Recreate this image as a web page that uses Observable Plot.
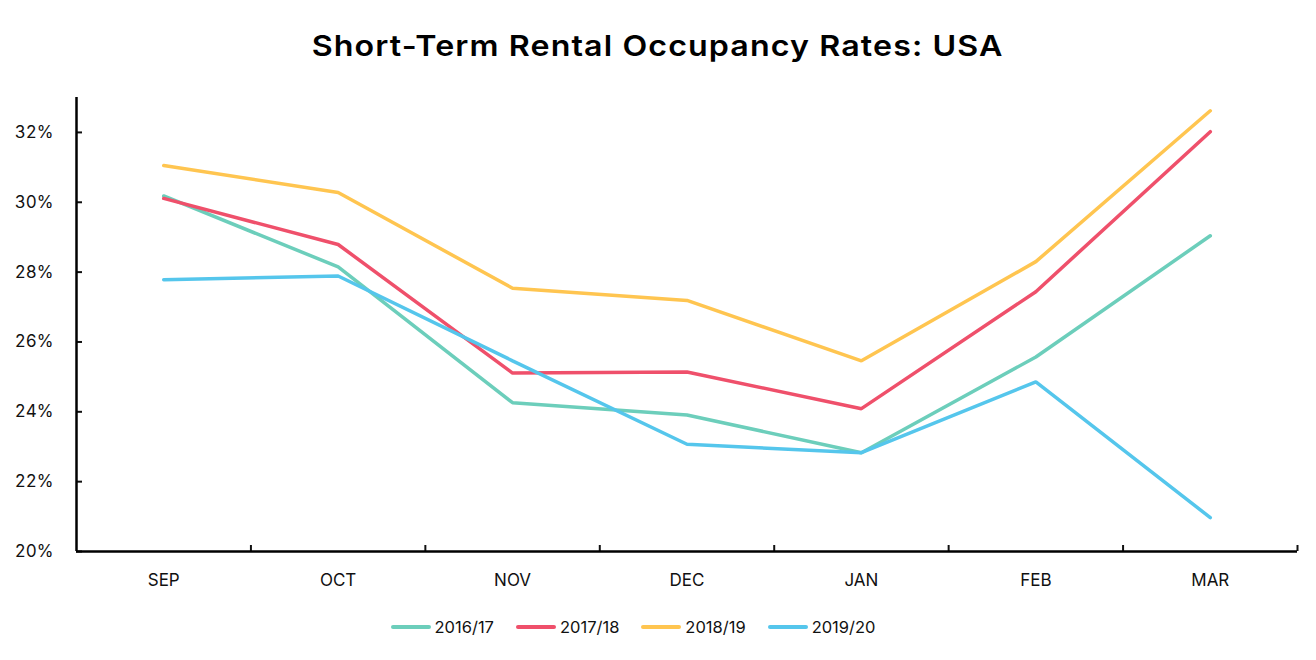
<!DOCTYPE html>
<html>
<head>
<meta charset="utf-8">
<script src="https://cdn.jsdelivr.net/npm/d3@7"></script>
<script src="https://cdn.jsdelivr.net/npm/@observablehq/plot@0.6"></script>
<style>
  html, body { margin: 0; padding: 0; background: #fff; }
  body { width: 1316px; height: 660px; overflow: hidden; font-family: "Inter", "Open Sans", sans-serif; color: #111; }
  #title { height: 90px; display: flex; align-items: center; justify-content: center; }
  #title span { display: inline-block; font-size: 29px; font-weight: 600; letter-spacing: 1px; transform: scaleX(1.11); color: #000; }
  #chart { height: 510px; }
  #legend { height: 60px; display: flex; justify-content: center; align-items: center; gap: 22px; font-size: 16.5px; padding-right: 50px; margin-top: -3px; }
  .item { display: flex; align-items: center; gap: 4px; }
  .sw { width: 40px; height: 4px; border-radius: 2px; }
</style>
</head>
<body>
<div id="title"><span>Short-Term Rental Occupancy Rates: USA</span></div>
<div id="chart"></div>
<div id="legend"></div>
<script>
const months = ["SEP", "OCT", "NOV", "DEC", "JAN", "FEB", "MAR"];
const seriesNames = ["2016/17", "2017/18", "2018/19", "2019/20"];
const colors = ["#6ccebb", "#ef506b", "#ffc550", "#55c6ec"];
const s2016 = [30.18, 28.15, 24.26, 23.91, 22.83, 25.57, 29.04];
const s2017 = [30.11, 28.79, 25.11, 25.14, 24.09, 27.44, 32.02];
const s2018 = [31.05, 30.28, 27.54, 27.19, 25.46, 28.30, 32.62];
const s2019 = [27.78, 27.89, 25.46, 23.07, 22.83, 24.86, 20.97];
const yTicks = [20, 22, 24, 26, 28, 30, 32];
const yDomain = [20, 33];

const allSeries = [s2016, s2017, s2018, s2019];
const data = [];
allSeries.forEach((vals, si) => vals.forEach((v, i) => data.push({series: seriesNames[si], i, month: months[i], value: v})));
const boundaries = months.map((m, i) => i + 0.5);

const plot = Plot.plot({
  width: 1316,
  height: 510,
  marginLeft: 76,
  marginRight: 19,
  marginTop: 7,
  marginBottom: 49,
  style: {fontFamily: "Inter, 'Open Sans', sans-serif", fontSize: "17px", color: "#111", background: "#fff"},
  x: {type: "linear", domain: [-0.5, months.length - 0.5]},
  y: {domain: yDomain},
  color: {domain: seriesNames, range: colors},
  marks: [
    Plot.axisY({ticks: yTicks, tickFormat: d => d + "%", tickSize: -6, tickPadding: 29, strokeWidth: 2, label: null, fontSize: 17}),
    Plot.axisX({ticks: d3.range(months.length), tickFormat: i => months[i], tickSize: 0, tickPadding: 22, label: null, fontSize: 17}),
    Plot.axisX({ticks: boundaries, tickFormat: () => "", tickSize: -6, strokeWidth: 2, label: null}),
    Plot.ruleX([-0.5], {y1: yDomain[0], y2: yDomain[1], stroke: "#000", strokeWidth: 2.5}),
    Plot.ruleY([yDomain[0]], {stroke: "#000", strokeWidth: 2.5}),
    Plot.line(data, {x: "i", y: "value", z: "series", stroke: "series", strokeWidth: 3.5, strokeLinejoin: "miter", strokeLinecap: "round"})
  ]
});
document.getElementById("chart").appendChild(plot);

const legend = document.getElementById("legend");
seriesNames.forEach((name, k) => {
  const it = document.createElement("div");
  it.className = "item";
  const sw = document.createElement("div");
  sw.className = "sw";
  sw.style.background = colors[k];
  const t = document.createElement("span");
  t.textContent = name;
  it.appendChild(sw); it.appendChild(t);
  legend.appendChild(it);
});
</script>
</body>
</html>
